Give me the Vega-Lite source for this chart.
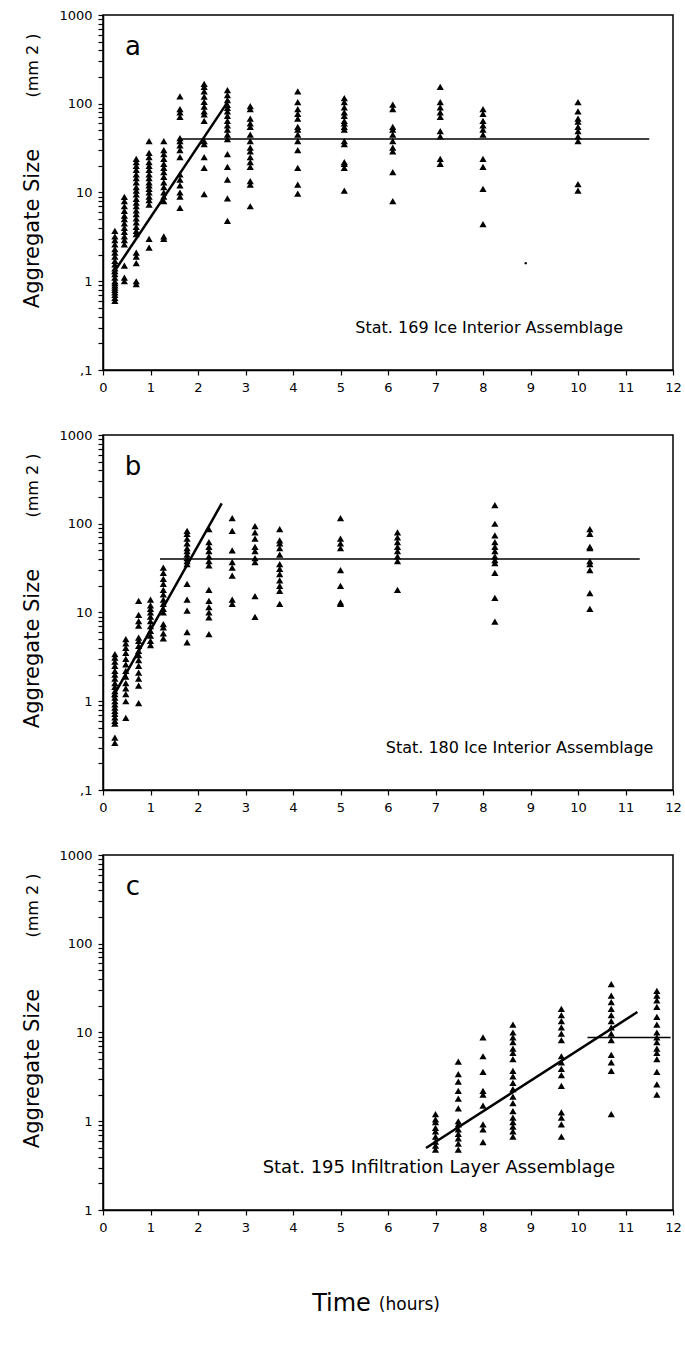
{
"$schema":"https://vega.github.io/schema/vega-lite/v6.json",
"padding":{"left":20,"top":8,"right":5,"bottom":5},
"bounds":"flush",
"spacing":65,
"datasets":{
"pts":[
{"p":"a","t":0.25,"v":3.7},{"p":"a","t":0.25,"v":3.2},{"p":"a","t":0.25,"v":2.9},{"p":"a","t":0.25,"v":2.6},{"p":"a","t":0.25,"v":2.3},{"p":"a","t":0.25,"v":2.1},{"p":"a","t":0.25,"v":1.9},{"p":"a","t":0.25,"v":1.7},{"p":"a","t":0.25,"v":1.55},{"p":"a","t":0.25,"v":1.4},{"p":"a","t":0.25,"v":1.3},{"p":"a","t":0.25,"v":1.2},{"p":"a","t":0.25,"v":1.1},{"p":"a","t":0.25,"v":1.0},{"p":"a","t":0.25,"v":0.95},{"p":"a","t":0.25,"v":0.9},{"p":"a","t":0.25,"v":0.85},{"p":"a","t":0.25,"v":0.8},{"p":"a","t":0.25,"v":0.75},{"p":"a","t":0.25,"v":0.7},{"p":"a","t":0.25,"v":0.65},{"p":"a","t":0.25,"v":0.6},
{"p":"a","t":0.45,"v":8.9},{"p":"a","t":0.45,"v":8},{"p":"a","t":0.45,"v":7},{"p":"a","t":0.45,"v":6.2},{"p":"a","t":0.45,"v":5.5},{"p":"a","t":0.45,"v":5},{"p":"a","t":0.45,"v":4.5},{"p":"a","t":0.45,"v":4},{"p":"a","t":0.45,"v":3.6},{"p":"a","t":0.45,"v":3.2},{"p":"a","t":0.45,"v":2.9},{"p":"a","t":0.45,"v":2.6},{"p":"a","t":0.45,"v":1.5},{"p":"a","t":0.45,"v":1.1},{"p":"a","t":0.45,"v":1.0},
{"p":"a","t":0.7,"v":24},{"p":"a","t":0.7,"v":22},{"p":"a","t":0.7,"v":20},{"p":"a","t":0.7,"v":18},{"p":"a","t":0.7,"v":16},{"p":"a","t":0.7,"v":14.5},{"p":"a","t":0.7,"v":13},{"p":"a","t":0.7,"v":11.5},{"p":"a","t":0.7,"v":10.5},{"p":"a","t":0.7,"v":9.5},{"p":"a","t":0.7,"v":8.5},{"p":"a","t":0.7,"v":7.7},{"p":"a","t":0.7,"v":7},{"p":"a","t":0.7,"v":6.3},{"p":"a","t":0.7,"v":5.7},{"p":"a","t":0.7,"v":5.1},{"p":"a","t":0.7,"v":4.6},{"p":"a","t":0.7,"v":4.1},{"p":"a","t":0.7,"v":3.7},{"p":"a","t":0.7,"v":3.4},{"p":"a","t":0.7,"v":2.1},{"p":"a","t":0.7,"v":1.9},{"p":"a","t":0.7,"v":1.6},{"p":"a","t":0.7,"v":1.0},{"p":"a","t":0.7,"v":0.93},
{"p":"a","t":0.97,"v":38},{"p":"a","t":0.97,"v":28},{"p":"a","t":0.97,"v":25},{"p":"a","t":0.97,"v":22},{"p":"a","t":0.97,"v":20},{"p":"a","t":0.97,"v":18},{"p":"a","t":0.97,"v":16},{"p":"a","t":0.97,"v":14.5},{"p":"a","t":0.97,"v":13},{"p":"a","t":0.97,"v":12},{"p":"a","t":0.97,"v":11},{"p":"a","t":0.97,"v":10},{"p":"a","t":0.97,"v":9},{"p":"a","t":0.97,"v":8.2},{"p":"a","t":0.97,"v":7.3},{"p":"a","t":0.97,"v":3.0},{"p":"a","t":0.97,"v":2.4},
{"p":"a","t":1.28,"v":38},{"p":"a","t":1.28,"v":30},{"p":"a","t":1.28,"v":27},{"p":"a","t":1.28,"v":24},{"p":"a","t":1.28,"v":21},{"p":"a","t":1.28,"v":19},{"p":"a","t":1.28,"v":17},{"p":"a","t":1.28,"v":15},{"p":"a","t":1.28,"v":13},{"p":"a","t":1.28,"v":11.5},{"p":"a","t":1.28,"v":10},{"p":"a","t":1.28,"v":9},{"p":"a","t":1.28,"v":8},{"p":"a","t":1.28,"v":3.2},{"p":"a","t":1.28,"v":3.0},
{"p":"a","t":1.62,"v":121},{"p":"a","t":1.62,"v":87},{"p":"a","t":1.62,"v":80},{"p":"a","t":1.62,"v":71},{"p":"a","t":1.62,"v":41},{"p":"a","t":1.62,"v":38},{"p":"a","t":1.62,"v":34},{"p":"a","t":1.62,"v":30},{"p":"a","t":1.62,"v":25},{"p":"a","t":1.62,"v":16},{"p":"a","t":1.62,"v":14},{"p":"a","t":1.62,"v":12},{"p":"a","t":1.62,"v":10},{"p":"a","t":1.62,"v":9},{"p":"a","t":1.62,"v":6.7},
{"p":"a","t":2.13,"v":168},{"p":"a","t":2.13,"v":155},{"p":"a","t":2.13,"v":138},{"p":"a","t":2.13,"v":120},{"p":"a","t":2.13,"v":105},{"p":"a","t":2.13,"v":93},{"p":"a","t":2.13,"v":82},{"p":"a","t":2.13,"v":76},{"p":"a","t":2.13,"v":64},{"p":"a","t":2.13,"v":38},{"p":"a","t":2.13,"v":35},{"p":"a","t":2.13,"v":25},{"p":"a","t":2.13,"v":19},{"p":"a","t":2.13,"v":9.6},
{"p":"a","t":2.62,"v":142},{"p":"a","t":2.62,"v":125},{"p":"a","t":2.62,"v":110},{"p":"a","t":2.62,"v":97},{"p":"a","t":2.62,"v":90},{"p":"a","t":2.62,"v":82},{"p":"a","t":2.62,"v":73},{"p":"a","t":2.62,"v":64},{"p":"a","t":2.62,"v":57},{"p":"a","t":2.62,"v":51},{"p":"a","t":2.62,"v":45},{"p":"a","t":2.62,"v":40},{"p":"a","t":2.62,"v":27},{"p":"a","t":2.62,"v":19.5},{"p":"a","t":2.62,"v":14},{"p":"a","t":2.62,"v":8.6},{"p":"a","t":2.62,"v":4.8},
{"p":"a","t":3.1,"v":94},{"p":"a","t":3.1,"v":87},{"p":"a","t":3.1,"v":68},{"p":"a","t":3.1,"v":60},{"p":"a","t":3.1,"v":55},{"p":"a","t":3.1,"v":45},{"p":"a","t":3.1,"v":38},{"p":"a","t":3.1,"v":32},{"p":"a","t":3.1,"v":29},{"p":"a","t":3.1,"v":25},{"p":"a","t":3.1,"v":22},{"p":"a","t":3.1,"v":19.5},{"p":"a","t":3.1,"v":13.4},{"p":"a","t":3.1,"v":12.3},{"p":"a","t":3.1,"v":7},
{"p":"a","t":4.1,"v":138},{"p":"a","t":4.1,"v":104},{"p":"a","t":4.1,"v":87},{"p":"a","t":4.1,"v":77},{"p":"a","t":4.1,"v":68},{"p":"a","t":4.1,"v":55},{"p":"a","t":4.1,"v":51},{"p":"a","t":4.1,"v":45},{"p":"a","t":4.1,"v":38},{"p":"a","t":4.1,"v":30},{"p":"a","t":4.1,"v":19},{"p":"a","t":4.1,"v":12.3},{"p":"a","t":4.1,"v":9.7},
{"p":"a","t":5.08,"v":116},{"p":"a","t":5.08,"v":104},{"p":"a","t":5.08,"v":91},{"p":"a","t":5.08,"v":80},{"p":"a","t":5.08,"v":73},{"p":"a","t":5.08,"v":64},{"p":"a","t":5.08,"v":60},{"p":"a","t":5.08,"v":55},{"p":"a","t":5.08,"v":51},{"p":"a","t":5.08,"v":38},{"p":"a","t":5.08,"v":35},{"p":"a","t":5.08,"v":22},{"p":"a","t":5.08,"v":21},{"p":"a","t":5.08,"v":19},{"p":"a","t":5.08,"v":10.5},
{"p":"a","t":6.1,"v":98},{"p":"a","t":6.1,"v":87},{"p":"a","t":6.1,"v":55},{"p":"a","t":6.1,"v":51},{"p":"a","t":6.1,"v":45},{"p":"a","t":6.1,"v":38},{"p":"a","t":6.1,"v":32},{"p":"a","t":6.1,"v":29},{"p":"a","t":6.1,"v":17},{"p":"a","t":6.1,"v":8},
{"p":"a","t":7.1,"v":155},{"p":"a","t":7.1,"v":104},{"p":"a","t":7.1,"v":91},{"p":"a","t":7.1,"v":80},{"p":"a","t":7.1,"v":71},{"p":"a","t":7.1,"v":49},{"p":"a","t":7.1,"v":43},{"p":"a","t":7.1,"v":24},{"p":"a","t":7.1,"v":21},
{"p":"a","t":8.0,"v":87},{"p":"a","t":8.0,"v":77},{"p":"a","t":8.0,"v":64},{"p":"a","t":8.0,"v":57},{"p":"a","t":8.0,"v":51},{"p":"a","t":8.0,"v":45},{"p":"a","t":8.0,"v":24},{"p":"a","t":8.0,"v":19.5},{"p":"a","t":8.0,"v":11},{"p":"a","t":8.0,"v":4.4},
{"p":"a","t":10.0,"v":104},{"p":"a","t":10.0,"v":82},{"p":"a","t":10.0,"v":68},{"p":"a","t":10.0,"v":63},{"p":"a","t":10.0,"v":55},{"p":"a","t":10.0,"v":49},{"p":"a","t":10.0,"v":43},{"p":"a","t":10.0,"v":38},{"p":"a","t":10.0,"v":12.4},{"p":"a","t":10.0,"v":10.5},
{"p":"b","t":0.25,"v":3.4},{"p":"b","t":0.25,"v":3.1},{"p":"b","t":0.25,"v":2.8},{"p":"b","t":0.25,"v":2.5},{"p":"b","t":0.25,"v":2.2},{"p":"b","t":0.25,"v":2.0},{"p":"b","t":0.25,"v":1.8},{"p":"b","t":0.25,"v":1.6},{"p":"b","t":0.25,"v":1.45},{"p":"b","t":0.25,"v":1.3},{"p":"b","t":0.25,"v":1.2},{"p":"b","t":0.25,"v":1.1},{"p":"b","t":0.25,"v":1.0},{"p":"b","t":0.25,"v":0.92},{"p":"b","t":0.25,"v":0.85},{"p":"b","t":0.25,"v":0.78},{"p":"b","t":0.25,"v":0.72},{"p":"b","t":0.25,"v":0.66},{"p":"b","t":0.25,"v":0.6},{"p":"b","t":0.25,"v":0.56},{"p":"b","t":0.25,"v":0.39},{"p":"b","t":0.25,"v":0.34},
{"p":"b","t":0.48,"v":5},{"p":"b","t":0.48,"v":4.5},{"p":"b","t":0.48,"v":4},{"p":"b","t":0.48,"v":3.5},{"p":"b","t":0.48,"v":3},{"p":"b","t":0.48,"v":2.6},{"p":"b","t":0.48,"v":2.2},{"p":"b","t":0.48,"v":1.9},{"p":"b","t":0.48,"v":1.6},{"p":"b","t":0.48,"v":1.4},{"p":"b","t":0.48,"v":1.2},{"p":"b","t":0.48,"v":1.0},{"p":"b","t":0.48,"v":0.65},
{"p":"b","t":0.75,"v":13.5},{"p":"b","t":0.75,"v":9.4},{"p":"b","t":0.75,"v":8},{"p":"b","t":0.75,"v":7.1},{"p":"b","t":0.75,"v":5.2},{"p":"b","t":0.75,"v":4.8},{"p":"b","t":0.75,"v":4.2},{"p":"b","t":0.75,"v":3.7},{"p":"b","t":0.75,"v":3.3},{"p":"b","t":0.75,"v":2.9},{"p":"b","t":0.75,"v":2.5},{"p":"b","t":0.75,"v":2.1},{"p":"b","t":0.75,"v":1.8},{"p":"b","t":0.75,"v":1.5},{"p":"b","t":0.75,"v":0.95},
{"p":"b","t":1.0,"v":14},{"p":"b","t":1.0,"v":12},{"p":"b","t":1.0,"v":11},{"p":"b","t":1.0,"v":10},{"p":"b","t":1.0,"v":9},{"p":"b","t":1.0,"v":8},{"p":"b","t":1.0,"v":7},{"p":"b","t":1.0,"v":6.2},{"p":"b","t":1.0,"v":5.5},{"p":"b","t":1.0,"v":4.8},{"p":"b","t":1.0,"v":4.3},
{"p":"b","t":1.27,"v":32},{"p":"b","t":1.27,"v":28},{"p":"b","t":1.27,"v":24},{"p":"b","t":1.27,"v":21},{"p":"b","t":1.27,"v":18},{"p":"b","t":1.27,"v":16},{"p":"b","t":1.27,"v":14},{"p":"b","t":1.27,"v":12.5},{"p":"b","t":1.27,"v":11},{"p":"b","t":1.27,"v":10},{"p":"b","t":1.27,"v":7.4},{"p":"b","t":1.27,"v":6.8},{"p":"b","t":1.27,"v":5.8},{"p":"b","t":1.27,"v":5.1},
{"p":"b","t":1.77,"v":83},{"p":"b","t":1.77,"v":77},{"p":"b","t":1.77,"v":68},{"p":"b","t":1.77,"v":60},{"p":"b","t":1.77,"v":53},{"p":"b","t":1.77,"v":49},{"p":"b","t":1.77,"v":45},{"p":"b","t":1.77,"v":41},{"p":"b","t":1.77,"v":38},{"p":"b","t":1.77,"v":35},{"p":"b","t":1.77,"v":21},{"p":"b","t":1.77,"v":14},{"p":"b","t":1.77,"v":10.5},{"p":"b","t":1.77,"v":6},{"p":"b","t":1.77,"v":4.6},
{"p":"b","t":2.23,"v":87},{"p":"b","t":2.23,"v":62},{"p":"b","t":2.23,"v":55},{"p":"b","t":2.23,"v":49},{"p":"b","t":2.23,"v":43},{"p":"b","t":2.23,"v":38},{"p":"b","t":2.23,"v":34},{"p":"b","t":2.23,"v":18},{"p":"b","t":2.23,"v":13.5},{"p":"b","t":2.23,"v":11.5},{"p":"b","t":2.23,"v":10},{"p":"b","t":2.23,"v":8.8},{"p":"b","t":2.23,"v":5.7},
{"p":"b","t":2.72,"v":116},{"p":"b","t":2.72,"v":83},{"p":"b","t":2.72,"v":50},{"p":"b","t":2.72,"v":37},{"p":"b","t":2.72,"v":32},{"p":"b","t":2.72,"v":26},{"p":"b","t":2.72,"v":14},{"p":"b","t":2.72,"v":12.5},
{"p":"b","t":3.2,"v":94},{"p":"b","t":3.2,"v":80},{"p":"b","t":3.2,"v":68},{"p":"b","t":3.2,"v":55},{"p":"b","t":3.2,"v":49},{"p":"b","t":3.2,"v":41},{"p":"b","t":3.2,"v":37},{"p":"b","t":3.2,"v":15.3},{"p":"b","t":3.2,"v":8.9},
{"p":"b","t":3.72,"v":87},{"p":"b","t":3.72,"v":65},{"p":"b","t":3.72,"v":60},{"p":"b","t":3.72,"v":53},{"p":"b","t":3.72,"v":45},{"p":"b","t":3.72,"v":35},{"p":"b","t":3.72,"v":31},{"p":"b","t":3.72,"v":27},{"p":"b","t":3.72,"v":23},{"p":"b","t":3.72,"v":20},{"p":"b","t":3.72,"v":17.5},{"p":"b","t":3.72,"v":12.5},
{"p":"b","t":5.0,"v":116},{"p":"b","t":5.0,"v":68},{"p":"b","t":5.0,"v":60},{"p":"b","t":5.0,"v":53},{"p":"b","t":5.0,"v":30},{"p":"b","t":5.0,"v":20},{"p":"b","t":5.0,"v":13},{"p":"b","t":5.0,"v":12.5},
{"p":"b","t":6.2,"v":80},{"p":"b","t":6.2,"v":70},{"p":"b","t":6.2,"v":62},{"p":"b","t":6.2,"v":55},{"p":"b","t":6.2,"v":49},{"p":"b","t":6.2,"v":43},{"p":"b","t":6.2,"v":38},{"p":"b","t":6.2,"v":18},
{"p":"b","t":8.25,"v":162},{"p":"b","t":8.25,"v":100},{"p":"b","t":8.25,"v":74},{"p":"b","t":8.25,"v":62},{"p":"b","t":8.25,"v":55},{"p":"b","t":8.25,"v":49},{"p":"b","t":8.25,"v":43},{"p":"b","t":8.25,"v":39},{"p":"b","t":8.25,"v":36},{"p":"b","t":8.25,"v":28},{"p":"b","t":8.25,"v":14.6},{"p":"b","t":8.25,"v":7.9},
{"p":"b","t":10.25,"v":87},{"p":"b","t":10.25,"v":77},{"p":"b","t":10.25,"v":55},{"p":"b","t":10.25,"v":53},{"p":"b","t":10.25,"v":38},{"p":"b","t":10.25,"v":35},{"p":"b","t":10.25,"v":30},{"p":"b","t":10.25,"v":16.5},{"p":"b","t":10.25,"v":11},
{"p":"c","t":7.0,"v":1.2},{"p":"c","t":7.0,"v":1.05},{"p":"c","t":7.0,"v":0.98},{"p":"c","t":7.0,"v":0.84},{"p":"c","t":7.0,"v":0.77},{"p":"c","t":7.0,"v":0.67},{"p":"c","t":7.0,"v":0.59},{"p":"c","t":7.0,"v":0.53},{"p":"c","t":7.0,"v":0.48},
{"p":"c","t":7.48,"v":4.7},{"p":"c","t":7.48,"v":3.4},{"p":"c","t":7.48,"v":2.8},{"p":"c","t":7.48,"v":2.2},{"p":"c","t":7.48,"v":1.8},{"p":"c","t":7.48,"v":1.4},{"p":"c","t":7.48,"v":1.0},{"p":"c","t":7.48,"v":0.92},{"p":"c","t":7.48,"v":0.81},{"p":"c","t":7.48,"v":0.72},{"p":"c","t":7.48,"v":0.64},{"p":"c","t":7.48,"v":0.56},{"p":"c","t":7.48,"v":0.48},
{"p":"c","t":8.0,"v":8.8},{"p":"c","t":8.0,"v":5.4},{"p":"c","t":8.0,"v":3.6},{"p":"c","t":8.0,"v":2.2},{"p":"c","t":8.0,"v":2.0},{"p":"c","t":8.0,"v":1.5},{"p":"c","t":8.0,"v":0.92},{"p":"c","t":8.0,"v":0.81},{"p":"c","t":8.0,"v":0.58},
{"p":"c","t":8.63,"v":12.3},{"p":"c","t":8.63,"v":10},{"p":"c","t":8.63,"v":8.8},{"p":"c","t":8.63,"v":7.8},{"p":"c","t":8.63,"v":6.6},{"p":"c","t":8.63,"v":5.9},{"p":"c","t":8.63,"v":5.0},{"p":"c","t":8.63,"v":3.7},{"p":"c","t":8.63,"v":3.2},{"p":"c","t":8.63,"v":2.7},{"p":"c","t":8.63,"v":2.3},{"p":"c","t":8.63,"v":1.9},{"p":"c","t":8.63,"v":1.6},{"p":"c","t":8.63,"v":1.3},{"p":"c","t":8.63,"v":1.1},{"p":"c","t":8.63,"v":0.98},{"p":"c","t":8.63,"v":0.87},{"p":"c","t":8.63,"v":0.77},{"p":"c","t":8.63,"v":0.67},
{"p":"c","t":9.65,"v":18.5},{"p":"c","t":9.65,"v":15.7},{"p":"c","t":9.65,"v":13.4},{"p":"c","t":9.65,"v":11.4},{"p":"c","t":9.65,"v":9.7},{"p":"c","t":9.65,"v":8.2},{"p":"c","t":9.65,"v":5.4},{"p":"c","t":9.65,"v":4.6},{"p":"c","t":9.65,"v":3.9},{"p":"c","t":9.65,"v":3.3},{"p":"c","t":9.65,"v":2.5},{"p":"c","t":9.65,"v":1.26},{"p":"c","t":9.65,"v":1.1},{"p":"c","t":9.65,"v":0.92},{"p":"c","t":9.65,"v":0.67},
{"p":"c","t":10.7,"v":35},{"p":"c","t":10.7,"v":26},{"p":"c","t":10.7,"v":22},{"p":"c","t":10.7,"v":18.5},{"p":"c","t":10.7,"v":15.7},{"p":"c","t":10.7,"v":13.4},{"p":"c","t":10.7,"v":11.4},{"p":"c","t":10.7,"v":9.7},{"p":"c","t":10.7,"v":8.2},{"p":"c","t":10.7,"v":5.6},{"p":"c","t":10.7,"v":4.6},{"p":"c","t":10.7,"v":3.7},{"p":"c","t":10.7,"v":1.2},
{"p":"c","t":11.66,"v":29.4},{"p":"c","t":11.66,"v":26},{"p":"c","t":11.66,"v":23},{"p":"c","t":11.66,"v":19.5},{"p":"c","t":11.66,"v":15},{"p":"c","t":11.66,"v":12.3},{"p":"c","t":11.66,"v":10},{"p":"c","t":11.66,"v":8.8},{"p":"c","t":11.66,"v":7.8},{"p":"c","t":11.66,"v":6.6},{"p":"c","t":11.66,"v":5.9},{"p":"c","t":11.66,"v":5.0},{"p":"c","t":11.66,"v":3.6},{"p":"c","t":11.66,"v":2.6},{"p":"c","t":11.66,"v":2.0}
],
"dots":[{"p":"a","t":8.9,"v":1.6}],
"lines":[
{"p":"a","seg":"fit","t":0.2,"v":1.2},{"p":"a","seg":"fit","t":2.65,"v":110},
{"p":"a","seg":"mean","t":1.62,"v":40},{"p":"a","seg":"mean","t":11.5,"v":40},
{"p":"b","seg":"fit","t":0.2,"v":1.1},{"p":"b","seg":"fit","t":2.5,"v":170},
{"p":"b","seg":"mean","t":1.2,"v":40},{"p":"b","seg":"mean","t":11.3,"v":40},
{"p":"c","seg":"fit","t":6.8,"v":0.5},{"p":"c","seg":"fit","t":11.25,"v":17},
{"p":"c","seg":"mean","t":10.2,"v":8.8},{"p":"c","seg":"mean","t":11.95,"v":8.8}
],
"notes":[
{"p":"a","role":"letter","t":0.63,"v":440,"txt":"a"},
{"p":"a","role":"note","t":8.13,"v":0.3,"txt":"Stat. 169  Ice Interior Assemblage"},
{"p":"a","role":"unit","t":-1.47,"v":270,"txt":"(mm 2 )"},
{"p":"b","role":"letter","t":0.63,"v":440,"txt":"b"},
{"p":"b","role":"note","t":8.77,"v":0.3,"txt":"Stat. 180  Ice Interior Assemblage"},
{"p":"b","role":"unit","t":-1.47,"v":270,"txt":"(mm 2 )"},
{"p":"c","role":"letter","t":0.63,"v":440,"txt":"c"},
{"p":"c","role":"note","t":7.07,"v":0.3,"txt":"Stat. 195  Infiltration Layer Assemblage"},
{"p":"c","role":"unit","t":-1.47,"v":270,"txt":"(mm 2 )"},
{"p":"c","role":"hours","t":6.45,"v":0.0085,"txt":"(hours)"}
]
},
"vconcat":[
{"width":570,"height":355,
"layer":[
{"data":{"name":"pts"},"transform":[{"filter":"datum.p=='a'"}],
"mark":{"type":"point","shape":"triangle-up","filled":true,"color":"black","size":52,"opacity":1},
"encoding":{
"x":{"field":"t","type":"quantitative","scale":{"domain":[0,12],"nice":false,"zero":false},"axis":{"values":[0,1,2,3,4,5,6,7,8,9,10,11,12],"title":null,"labelFlush":false,"tickSize":5,"labelPadding":6}},
"y":{"field":"v","type":"quantitative","scale":{"type":"log","domain":[0.1,1000],"nice":false},"axis":{"values":[0.1,0.2,0.3,0.4,0.5,0.6,0.7,0.8,0.9,1,2,3,4,5,6,7,8,9,10,20,30,40,50,60,70,80,90,100,200,300,400,500,600,700,800,900,1000],"labelExpr":"datum.value == 0.1 ? ',1' : (datum.value == 1 || datum.value == 10 || datum.value == 100 || datum.value == 1000) ? format(datum.value, 'd') : ''","labelOverlap":false,"tickSize":5,"labelPadding":6,"title":"Aggregate Size","titleFontSize":21,"titleX":-71,"titleY":213,"titleAngle":270,"titleAlign":"center","titleBaseline":"middle"}}}},
{"data":{"name":"dots"},"transform":[{"filter":"datum.p=='a'"}],"mark":{"type":"point","shape":"circle","filled":true,"color":"black","size":6,"opacity":1},"encoding":{"x":{"field":"t","type":"quantitative"},"y":{"field":"v","type":"quantitative"}}},
{"data":{"name":"lines"},"transform":[{"filter":"datum.p=='a' && datum.seg=='fit'"}],"mark":{"type":"line","color":"black","strokeWidth":2.5},"encoding":{"x":{"field":"t","type":"quantitative"},"y":{"field":"v","type":"quantitative"}}},
{"data":{"name":"lines"},"transform":[{"filter":"datum.p=='a' && datum.seg=='mean'"}],"mark":{"type":"line","color":"black","strokeWidth":1.5},"encoding":{"x":{"field":"t","type":"quantitative"},"y":{"field":"v","type":"quantitative"}}},
{"data":{"name":"notes"},"transform":[{"filter":"datum.p=='a' && datum.role=='letter'"}],"mark":{"type":"text","fontSize":26,"align":"center","baseline":"middle"},"encoding":{"x":{"field":"t","type":"quantitative"},"y":{"field":"v","type":"quantitative"},"text":{"field":"txt"}}},
{"data":{"name":"notes"},"transform":[{"filter":"datum.p=='a' && datum.role=='note'"}],"mark":{"type":"text","fontSize":16,"align":"center","baseline":"middle"},"encoding":{"x":{"field":"t","type":"quantitative"},"y":{"field":"v","type":"quantitative"},"text":{"field":"txt"}}},
{"data":{"name":"notes"},"transform":[{"filter":"datum.p=='a' && datum.role=='unit'"}],"mark":{"type":"text","fontSize":16,"angle":270,"align":"center","baseline":"middle"},"encoding":{"x":{"field":"t","type":"quantitative"},"y":{"field":"v","type":"quantitative"},"text":{"field":"txt"}}}
]},
{"width":570,"height":355,
"layer":[
{"data":{"name":"pts"},"transform":[{"filter":"datum.p=='b'"}],
"mark":{"type":"point","shape":"triangle-up","filled":true,"color":"black","size":52,"opacity":1},
"encoding":{
"x":{"field":"t","type":"quantitative","scale":{"domain":[0,12],"nice":false,"zero":false},"axis":{"values":[0,1,2,3,4,5,6,7,8,9,10,11,12],"title":null,"labelFlush":false,"tickSize":5,"labelPadding":6}},
"y":{"field":"v","type":"quantitative","scale":{"type":"log","domain":[0.1,1000],"nice":false},"axis":{"values":[0.1,0.2,0.3,0.4,0.5,0.6,0.7,0.8,0.9,1,2,3,4,5,6,7,8,9,10,20,30,40,50,60,70,80,90,100,200,300,400,500,600,700,800,900,1000],"labelExpr":"datum.value == 0.1 ? ',1' : (datum.value == 1 || datum.value == 10 || datum.value == 100 || datum.value == 1000) ? format(datum.value, 'd') : ''","labelOverlap":false,"tickSize":5,"labelPadding":6,"title":"Aggregate Size","titleFontSize":21,"titleX":-71,"titleY":213,"titleAngle":270,"titleAlign":"center","titleBaseline":"middle"}}}},
{"data":{"name":"lines"},"transform":[{"filter":"datum.p=='b' && datum.seg=='fit'"}],"mark":{"type":"line","color":"black","strokeWidth":2.5},"encoding":{"x":{"field":"t","type":"quantitative"},"y":{"field":"v","type":"quantitative"}}},
{"data":{"name":"lines"},"transform":[{"filter":"datum.p=='b' && datum.seg=='mean'"}],"mark":{"type":"line","color":"black","strokeWidth":1.5},"encoding":{"x":{"field":"t","type":"quantitative"},"y":{"field":"v","type":"quantitative"}}},
{"data":{"name":"notes"},"transform":[{"filter":"datum.p=='b' && datum.role=='letter'"}],"mark":{"type":"text","fontSize":26,"align":"center","baseline":"middle"},"encoding":{"x":{"field":"t","type":"quantitative"},"y":{"field":"v","type":"quantitative"},"text":{"field":"txt"}}},
{"data":{"name":"notes"},"transform":[{"filter":"datum.p=='b' && datum.role=='note'"}],"mark":{"type":"text","fontSize":16,"align":"center","baseline":"middle"},"encoding":{"x":{"field":"t","type":"quantitative"},"y":{"field":"v","type":"quantitative"},"text":{"field":"txt"}}},
{"data":{"name":"notes"},"transform":[{"filter":"datum.p=='b' && datum.role=='unit'"}],"mark":{"type":"text","fontSize":16,"angle":270,"align":"center","baseline":"middle"},"encoding":{"x":{"field":"t","type":"quantitative"},"y":{"field":"v","type":"quantitative"},"text":{"field":"txt"}}}
]},
{"width":570,"height":355,
"layer":[
{"data":{"name":"pts"},"transform":[{"filter":"datum.p=='c'"}],
"mark":{"type":"point","shape":"triangle-up","filled":true,"color":"black","size":52,"opacity":1},
"encoding":{
"x":{"field":"t","type":"quantitative","scale":{"domain":[0,12],"nice":false,"zero":false},"axis":{"values":[0,1,2,3,4,5,6,7,8,9,10,11,12],"title":"Time","titleFontSize":24,"titleX":238,"titleY":93,"titleAlign":"center","titleBaseline":"middle","labelFlush":false,"tickSize":5,"labelPadding":6}},
"y":{"field":"v","type":"quantitative","scale":{"type":"log","domain":[0.1,1000],"nice":false},"axis":{"values":[0.1,0.2,0.3,0.4,0.5,0.6,0.7,0.8,0.9,1,2,3,4,5,6,7,8,9,10,20,30,40,50,60,70,80,90,100,200,300,400,500,600,700,800,900,1000],"labelExpr":"datum.value == 0.1 ? '1' : (datum.value == 1 || datum.value == 10 || datum.value == 100 || datum.value == 1000) ? format(datum.value, 'd') : ''","labelOverlap":false,"tickSize":5,"labelPadding":6,"title":"Aggregate Size","titleFontSize":21,"titleX":-71,"titleY":213,"titleAngle":270,"titleAlign":"center","titleBaseline":"middle"}}}},
{"data":{"name":"lines"},"transform":[{"filter":"datum.p=='c' && datum.seg=='fit'"}],"mark":{"type":"line","color":"black","strokeWidth":2.5},"encoding":{"x":{"field":"t","type":"quantitative"},"y":{"field":"v","type":"quantitative"}}},
{"data":{"name":"lines"},"transform":[{"filter":"datum.p=='c' && datum.seg=='mean'"}],"mark":{"type":"line","color":"black","strokeWidth":1.5},"encoding":{"x":{"field":"t","type":"quantitative"},"y":{"field":"v","type":"quantitative"}}},
{"data":{"name":"notes"},"transform":[{"filter":"datum.p=='c' && datum.role=='letter'"}],"mark":{"type":"text","fontSize":26,"align":"center","baseline":"middle"},"encoding":{"x":{"field":"t","type":"quantitative"},"y":{"field":"v","type":"quantitative"},"text":{"field":"txt"}}},
{"data":{"name":"notes"},"transform":[{"filter":"datum.p=='c' && datum.role=='note'"}],"mark":{"type":"text","fontSize":18,"align":"center","baseline":"middle"},"encoding":{"x":{"field":"t","type":"quantitative"},"y":{"field":"v","type":"quantitative"},"text":{"field":"txt"}}},
{"data":{"name":"notes"},"transform":[{"filter":"datum.p=='c' && datum.role=='unit'"}],"mark":{"type":"text","fontSize":16,"angle":270,"align":"center","baseline":"middle"},"encoding":{"x":{"field":"t","type":"quantitative"},"y":{"field":"v","type":"quantitative"},"text":{"field":"txt"}}},
{"data":{"name":"notes"},"transform":[{"filter":"datum.p=='c' && datum.role=='hours'"}],"mark":{"type":"text","fontSize":17,"align":"center","baseline":"middle"},"encoding":{"x":{"field":"t","type":"quantitative"},"y":{"field":"v","type":"quantitative"},"text":{"field":"txt"}}}
]}
],
"config":{
"view":{"stroke":"black","strokeWidth":1.5},
"axis":{"domainColor":"black","domainWidth":1.5,"tickColor":"black","tickWidth":1.2,"labelColor":"black","labelFont":"DejaVu Sans","labelFontSize":13,"grid":false,"titleColor":"black","titleFont":"DejaVu Sans","titleFontWeight":"normal"},
"text":{"font":"DejaVu Sans","color":"black"}
}
}
